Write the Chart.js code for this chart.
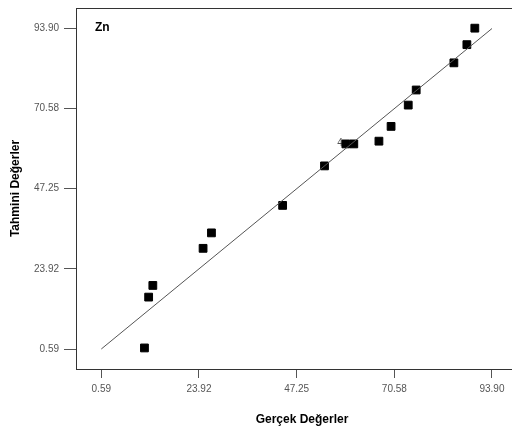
<!DOCTYPE html>
<html>
<head>
<meta charset="utf-8">
<script src="https://cdn.jsdelivr.net/npm/chart.js@4/dist/chart.umd.min.js"></script>
<style>
html,body{margin:0;padding:0;background:#fff;}
#c{display:block;}
</style>
</head>
<body>
<canvas id="c" width="512" height="429"></canvas>
<script>
// Data
const actualValues    = [10.9, 11.9, 12.9, 24.9, 26.9, 43.9, 53.9, 59.0, 60.9, 66.9, 69.8, 73.9, 75.8, 84.8, 87.9, 89.8];
const predictedValues = [0.9, 15.7, 19.1, 29.9, 34.4, 42.4, 53.9, 60.3, 60.3, 61.1, 65.4, 71.6, 76.0, 83.9, 89.2, 94.0];
const fitLineEnds     = [0.59, 93.90];
const xTickValues = [0.59, 23.92, 47.25, 70.58, 93.90];
const xTickLabels = ['0.59', '23.92', '47.25', '70.58', '93.90'];
const yTickValues = [0.59, 23.92, 47.25, 70.58, 93.90];
const yTickLabels = ['0.59', '23.92', '47.25', '70.58', '93.90'];
const panelLabel = 'Zn';
const clusterLabel = '4';
const xTitle = 'Gerçek Değerler';
const yTitle = 'Tahmini Değerler';

const points = actualValues.map((x, i) => ({x: x, y: predictedValues[i]}));
const line = fitLineEnds.map(v => ({x: v, y: v}));

const FONT = '"Liberation Sans", Arial, sans-serif';

const decor = {
  id: 'decor',
  beforeDatasetsDraw(chart) {
    const ctx = chart.ctx;
    const xs = chart.scales.x, ys = chart.scales.y;
    ctx.save();
    ctx.fillStyle = '#555';
    ctx.font = '10px ' + FONT;
    ctx.textAlign = 'right';
    ctx.textBaseline = 'middle';
    ctx.fillText(clusterLabel, xs.getPixelForValue(actualValues[7]) - 3, ys.getPixelForValue(predictedValues[7]) - 1);
    ctx.restore();
  },
  afterDraw(chart) {
    const ctx = chart.ctx;
    const a = chart.chartArea;
    ctx.save();
    ctx.strokeStyle = '#333';
    ctx.lineWidth = 1;
    ctx.beginPath();
    ctx.moveTo(a.left, a.top + 0.5);
    ctx.lineTo(a.right, a.top + 0.5);
    ctx.stroke();
    ctx.fillStyle = '#000';
    ctx.font = 'bold 12px ' + FONT;
    ctx.textAlign = 'left';
    ctx.textBaseline = 'middle';
    ctx.fillText(panelLabel, a.left + 19, a.top + 20);
    ctx.textAlign = 'center';
    ctx.fillText(xTitle, a.left + 226, 420);
    ctx.restore();
  }
};

new Chart(document.getElementById('c'), {
  type: 'scatter',
  data: {
    datasets: [
      {
        data: line,
        showLine: true,
        borderColor: '#555',
        borderWidth: 1,
        pointRadius: 0,
        fill: false
      },
      {
        data: points,
        pointStyle: 'rect',
        pointRadius: 5.5,
        backgroundColor: '#000',
        borderColor: '#000',
        borderWidth: 1
      }
    ]
  },
  options: {
    responsive: false,
    animation: false,
    events: [],
    layout: {autoPadding: false, padding: {top: 8, right: 0, left: 0, bottom: 0}},
    plugins: {legend: {display: false}, tooltip: {enabled: false}},
    scales: {
      x: {
        type: 'linear',
        min: -5.45,
        max: 98.68,
        afterFit(s) { s.height = 60; s.paddingRight = 0; s.paddingLeft = 0; },
        afterBuildTicks(s) { s.ticks = xTickValues.map(v => ({value: v})); },
        ticks: {
          callback: (v, i) => xTickLabels[i],
          color: '#555',
          font: {family: FONT, size: 10},
          padding: 5,
          maxRotation: 0,
          autoSkip: false
        },
        grid: {display: true, drawOnChartArea: false, drawTicks: true, tickLength: 9, color: '#555'},
        border: {display: true, color: '#333', width: 1},
        title: {display: false}
      },
      y: {
        type: 'linear',
        min: -5.23,
        max: 99.87,
        afterFit(s) { s.width = 76; s.paddingTop = 0; s.paddingBottom = 0; },
        afterBuildTicks(s) { s.ticks = yTickValues.map(v => ({value: v})); },
        ticks: {
          callback: (v, i) => yTickLabels[i],
          color: '#555',
          font: {family: FONT, size: 10},
          padding: 5,
          autoSkip: false
        },
        grid: {display: true, drawOnChartArea: false, drawTicks: true, tickLength: 12, color: '#555'},
        border: {display: true, color: '#333', width: 1},
        title: {display: true, text: yTitle, color: '#000', font: {family: FONT, size: 12, weight: 'bold'}, padding: {top: 8, bottom: 0}}
      }
    }
  },
  plugins: [decor]
});
</script>
</body>
</html>
